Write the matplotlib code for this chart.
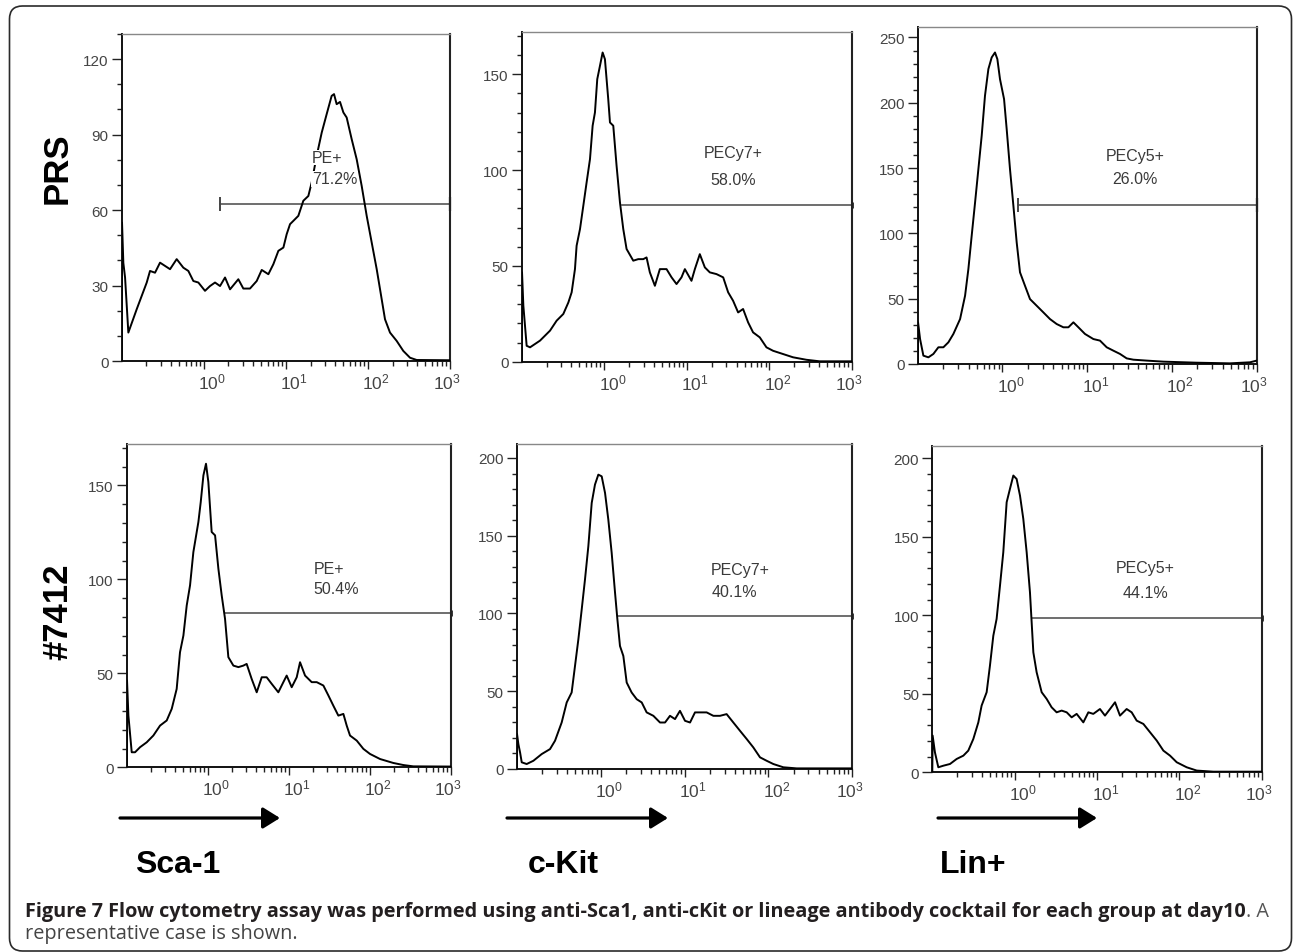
import matplotlib
matplotlib.use('Agg')
import matplotlib.pyplot as plt
import numpy as np
from matplotlib.ticker import LogLocator, MultipleLocator, NullFormatter
from matplotlib.transforms import ScaledTranslation
from matplotlib.patches import FancyBboxPatch

plt.rcParams['font.family'] = ['Liberation Sans', 'DejaVu Sans']
plt.rcParams['mathtext.fontset'] = 'custom'
plt.rcParams['mathtext.rm'] = 'Liberation Sans'
plt.rcParams['mathtext.it'] = 'Liberation Sans'

# ---- data (log10 intensity, cell count) ----
# PRS / Sca-1
prs_sca1_logx = [-1.0, -0.996, -0.98, -0.959, -0.919, -0.817, -0.695, -0.655, -0.594, -0.533, -0.472, -0.411,
                 -0.33, -0.249, -0.188, -0.127, -0.066, 0.015, 0.076, 0.137, 0.198, 0.259, 0.32, 0.421, 0.482,
                 0.563, 0.645, 0.706, 0.787, 0.848, 0.909, 0.97, 1.01, 1.051, 1.091, 1.152, 1.213, 1.274, 1.315,
                 1.376, 1.437, 1.497, 1.558, 1.587, 1.619, 1.66, 1.701, 1.741, 1.802, 1.863, 1.924, 1.985, 2.046,
                 2.107, 2.168, 2.208, 2.269, 2.35, 2.431, 2.513, 2.594, 3.0]
prs_sca1_count = [0, 55, 39, 33.2, 11.3, 20.6, 31.2, 35.8, 35.1, 39.1, 37.8, 36.5,
                  40.5, 37.1, 35.8, 31.8, 31.2, 27.9, 29.8, 31.2, 29.8, 33.2, 28.5, 32.5, 28.8,
                  28.8, 31.8, 36.2, 34.5, 38.5, 43.8, 45.1, 50.4, 54.4, 55.7, 57.7, 63.7, 65.6, 71.0,
                  81.6, 90.8, 98.1, 105.4, 106.1, 102.1, 103.0, 98.8, 96.8, 88.2, 80.2, 69.6, 57.7, 47.1,
                  36.5, 24.5, 16.6, 11.3, 8.0, 4.0, 1.3, 0.4, 0.3]
# PRS / c-Kit
prs_ckit_logx = [-1.0, -0.996, -0.98, -0.94, -0.899, -0.778, -0.657, -0.577, -0.496, -0.435, -0.395, -0.355,
                 -0.335, -0.294, -0.254, -0.214, -0.173, -0.141, -0.113, -0.085, -0.052, -0.02, 0.008, 0.048,
                 0.069, 0.109, 0.149, 0.19, 0.23, 0.27, 0.351, 0.411, 0.472, 0.512, 0.552, 0.613, 0.673, 0.754,
                 0.815, 0.875, 0.935, 0.976, 1.056, 1.097, 1.157, 1.218, 1.278, 1.359, 1.44, 1.5, 1.56, 1.621,
                 1.681, 1.742, 1.802, 1.883, 1.964, 2.044, 2.165, 2.286, 2.448, 2.609, 3.0]
prs_ckit_count = [0, 46.6, 29.2, 8.3, 7.5, 11.0, 16.2, 21.4, 24.9, 30.9, 36.2, 48.3,
                  60.5, 69.2, 81.3, 93.5, 105.7, 123.1, 130.0, 147.4, 154.4, 161.3, 157.8, 137.0,
                  124.8, 123.1, 102.2, 83.1, 69.2, 58.8, 52.7, 53.5, 53.5, 54.4, 46.6, 39.6, 48.3, 48.3,
                  44.0, 40.5, 44.0, 48.3, 42.2, 48.3, 56.1, 49.2, 46.6, 45.7, 44.0, 36.2, 31.8, 25.7,
                  27.5, 20.5, 15.3, 12.7, 7.5, 5.7, 4.0, 2.3, 1.0, 0.2, 0.2]
# PRS / Lin+
prs_lin_logx = [-1.0, -0.996, -0.972, -0.933, -0.874, -0.815, -0.756, -0.697, -0.638, -0.579, -0.5, -0.441,
                -0.402, -0.363, -0.323, -0.284, -0.245, -0.206, -0.166, -0.127, -0.088, -0.06, -0.029, 0.019,
                0.05, 0.089, 0.129, 0.168, 0.207, 0.266, 0.325, 0.404, 0.483, 0.561, 0.64, 0.719, 0.778, 0.837,
                0.896, 0.974, 1.073, 1.151, 1.23, 1.309, 1.387, 1.466, 1.545, 1.702, 1.899, 2.292, 2.685, 2.921,
                3.0]
prs_lin_count = [0, 31.9, 19.1, 6.4, 5.1, 7.7, 12.8, 12.8, 16.6, 23.0, 34.4, 52.3,
                 72.7, 98.2, 123.7, 149.2, 174.7, 205.4, 225.8, 234.7, 238.5, 233.4, 218.1, 202.8,
                 179.8, 149.2, 121.2, 93.1, 70.2, 59.9, 49.7, 44.6, 39.5, 34.4, 30.6, 28.1, 28.1, 31.9,
                 28.1, 23.0, 19.1, 17.9, 12.8, 10.2, 7.7, 4.3, 3.3, 2.6, 1.8, 1.0, 0.5, 1.3,
                 2.6]
# #7412 / Sca-1
d7412_sca1_logx = [-1.0, -0.996, -0.979, -0.938, -0.897, -0.835, -0.753, -0.671, -0.588, -0.506, -0.444, -0.383,
                   -0.342, -0.3, -0.259, -0.218, -0.177, -0.115, -0.086, -0.053, -0.021, 0.008, 0.049, 0.091,
                   0.132, 0.173, 0.214, 0.255, 0.317, 0.379, 0.44, 0.481, 0.543, 0.605, 0.667, 0.728, 0.79,
                   0.872, 0.934, 0.975, 1.037, 1.099, 1.14, 1.202, 1.284, 1.346, 1.428, 1.49, 1.551, 1.613,
                   1.675, 1.716, 1.757, 1.84, 1.922, 2.004, 2.128, 2.292, 2.416, 2.539, 3.0]
d7412_sca1_count = [0, 46.2, 27.5, 8.0, 8.0, 10.7, 13.3, 16.9, 22.2, 24.9, 31.1, 41.7,
                    61.2, 70.1, 86.1, 96.8, 114.5, 130.5, 141.1, 155.3, 161.5, 151.8, 125.2, 123.4,
                    105.6, 91.4, 79.0, 58.6, 54.1, 53.3, 54.1, 55.0, 47.0, 39.9, 47.9, 47.9, 44.4,
                    39.9, 45.3, 48.8, 42.6, 47.9, 55.9, 48.8, 45.3, 45.3, 43.5, 38.2, 32.8, 27.5,
                    28.4, 22.2, 16.9, 14.2, 9.8, 7.1, 4.4, 2.3, 1.2, 0.5, 0.4]
# #7412 / c-Kit
d7412_ckit_logx = [-1.0, -0.996, -0.98, -0.96, -0.94, -0.881, -0.801, -0.702, -0.603, -0.543, -0.464, -0.404,
                   -0.345, -0.305, -0.265, -0.225, -0.186, -0.146, -0.106, -0.067, -0.027, 0.013, 0.053, 0.092,
                   0.132, 0.172, 0.2, 0.231, 0.271, 0.311, 0.37, 0.43, 0.49, 0.549, 0.629, 0.708, 0.768, 0.827,
                   0.887, 0.946, 1.006, 1.066, 1.125, 1.185, 1.264, 1.344, 1.423, 1.502, 1.582, 1.661, 1.741,
                   1.82, 1.9, 1.979, 2.059, 2.178, 2.337, 3.0]
d7412_ckit_count = [0, 22.5, 16.0, 10.7, 4.3, 3.2, 5.3, 9.6, 12.8, 18.2, 29.9, 42.8,
                    49.2, 66.3, 83.4, 102.7, 121.9, 143.3, 171.1, 182.9, 189.3, 188.2, 177.5, 160.4,
                    139.0, 113.4, 96.3, 79.1, 72.7, 55.6, 49.2, 44.9, 42.8, 36.4, 34.2, 29.9, 29.9, 34.2,
                    32.1, 37.4, 31.0, 29.9, 36.4, 36.4, 36.4, 34.2, 34.2, 35.3, 29.9, 24.6, 19.3,
                    13.9, 7.5, 5.3, 3.2, 1.1, 0.4, 0.4]
# #7412 / Lin+
d7412_lin_logx = [-1.0, -0.996, -0.968, -0.927, -0.866, -0.785, -0.704, -0.623, -0.563, -0.502, -0.441, -0.401,
                  -0.34, -0.3, -0.259, -0.219, -0.178, -0.138, -0.097, -0.057, -0.016, 0.024, 0.065, 0.105,
                  0.146, 0.186, 0.227, 0.267, 0.328, 0.389, 0.449, 0.51, 0.571, 0.632, 0.692, 0.753, 0.834,
                  0.895, 0.955, 1.036, 1.097, 1.158, 1.219, 1.279, 1.36, 1.421, 1.482, 1.563, 1.644, 1.725,
                  1.806, 1.887, 1.968, 2.089, 2.211, 2.413, 3.0]
d7412_lin_count = [0, 23.4, 12.7, 3.2, 4.2, 5.3, 8.5, 10.6, 13.8, 21.2, 31.8, 42.5,
                   51.0, 67.9, 87.0, 97.7, 118.9, 140.1, 172.0, 180.5, 189.0, 186.8, 176.2, 161.4,
                   140.1, 114.6, 76.4, 63.7, 51.0, 46.7, 41.4, 38.2, 39.3, 38.2, 35.0, 37.2, 31.8,
                   38.2, 37.2, 40.3, 36.1, 40.3, 44.6, 36.1, 40.3, 38.2, 32.9, 30.8, 25.5, 20.2,
                   13.8, 10.6, 6.4, 3.2, 1.1, 0.4, 0.4]

# gates: marker name, percent, start of gate, height of gate
gate_names = ['PE+', 'PECy7+', 'PECy5+', 'PE+', 'PECy7+', 'PECy5+']
gate_pct = ['71.2%', '58.0%', '26.0%', '50.4%', '40.1%', '44.1%']
gate_start = [1.58, 1.62, 1.54, 1.64, 1.63, 1.61]
gate_end = 1000
gate_y = [62.3, 81.7, 121.7, 82.0, 98.4, 98.0]

y_max = [130, 172, 258, 172, 209, 208]
y_step = [30, 50, 50, 50, 50, 50]

row_labels = ['PRS', '#7412']
col_labels = ['Sca-1', 'c-Kit', 'Lin+']
caption_bold = ('Figure 7 Flow cytometry assay was performed using anti-Sca1, anti-cKit or lineage '
                'antibody cocktail for each group at day10')
caption_rest = '. A'
caption_line2 = 'representative case is shown.'

curves = [(prs_sca1_logx, prs_sca1_count), (prs_ckit_logx, prs_ckit_count), (prs_lin_logx, prs_lin_count),
          (d7412_sca1_logx, d7412_sca1_count), (d7412_ckit_logx, d7412_ckit_count),
          (d7412_lin_logx, d7412_lin_count)]

# ---- layout (figure pixels: left, top, right, bottom) ----
W, H = 1293, 953
boxes = [(121.7, 35, 450, 362), (521.7, 33, 852, 362.7), (917.7, 28, 1256.7, 365),
         (126.7, 445, 450.7, 768.3), (516.7, 445, 852.3, 770), (932.3, 446.7, 1261.7, 773.3)]
# label positions: (log x line1, y line1, log x line2, y line2, alignment)
label_pos = [(1.315, 80.9, 1.315, 72.5, 'left'), (1.56, 109, 1.56, 94.9, 'center'),
             (1.564, 160, 1.564, 142, 'center'), (1.305, 105.6, 1.305, 95, 'left'),
             (1.661, 128, 1.59, 114.4, 'center'), (1.583, 130.6, 1.583, 114.6, 'center')]
left_cap = [True, False, True, False, False, False]

fig = plt.figure(figsize=(W / 100, H / 100), dpi=100)
fig.patch.set_facecolor('white')

# background axes in pixel units for border, arrows and text
bg = fig.add_axes([0, 0, 1, 1], zorder=-1)
bg.set_xlim(0, W)
bg.set_ylim(H, 0)
bg.axis('off')
bg.add_patch(FancyBboxPatch((9.5, 7), 1282, 945, boxstyle='round,pad=0,rounding_size=13',
                            fc='none', ec='#2a2a2a', lw=1.2))

for i, (l, t, r, b) in enumerate(boxes):
    ax = fig.add_axes([l / W, 1 - b / H, (r - l) / W, (b - t) / H])
    logx, cnt = curves[i]
    ax.plot(10 ** np.array(logx), cnt, color='black', lw=1.4, zorder=3)
    ax.set_xscale('log')
    ax.set_xlim(0.1, 1000)
    ax.set_ylim(0, y_max[i])

    # gate line
    ax.plot([gate_start[i], gate_end], [gate_y[i], gate_y[i]], color='#555555', lw=1.2, zorder=2)
    if left_cap[i]:
        ax.plot([gate_start[i]], [gate_y[i]], marker='|', ms=10, mew=1.4, color='#444444')
        ax.plot([gate_end], [gate_y[i]], marker='|', ms=10, mew=1.6, color='#222222', clip_on=False)
    else:
        ax.plot([gate_end], [gate_y[i]], marker='|', ms=5, mew=2, color='#222222', clip_on=False)

    x1, y1, x2, y2, ha = label_pos[i]
    ax.text(10 ** x1, y1, gate_names[i], ha=ha, va='center', fontsize=11.5, color='#3a3a3a', zorder=4,
            bbox=dict(fc='white', ec='none', pad=0.3))
    ax.text(10 ** x2, y2, gate_pct[i], ha=ha, va='center', fontsize=11.5, color='#3a3a3a', zorder=4,
            bbox=dict(fc='white', ec='none', pad=0.3))

    # spines
    for side in ['left', 'bottom']:
        ax.spines[side].set_color('#111111')
        ax.spines[side].set_linewidth(1.4)
    ax.spines['right'].set_color('#222222')
    ax.spines['right'].set_linewidth(1.5)
    ax.spines['top'].set_color('#888888')
    ax.spines['top'].set_linewidth(1.0)

    # ticks
    ax.yaxis.set_major_locator(MultipleLocator(y_step[i]))
    ax.yaxis.set_minor_locator(MultipleLocator(10))
    ax.set_xticks([1, 10, 100, 1000])
    ax.set_xticklabels(['$10^{0}$', '$10^{1}$', '$10^{2}$', '$10^{3}$'])
    ax.xaxis.set_minor_locator(LogLocator(base=10, subs=np.arange(2, 10)))
    ax.xaxis.set_minor_formatter(NullFormatter())
    ax.tick_params(axis='y', which='major', length=7, width=1, pad=2.5, colors='#222222',
                   labelcolor='#444444', labelsize=11)
    ax.tick_params(axis='y', which='minor', length=3.5, width=1, colors='#222222')
    ax.tick_params(axis='x', which='major', length=6, width=1, pad=1.5, colors='#222222',
                   labelcolor='#444444', labelsize=12.5)
    ax.tick_params(axis='x', which='minor', length=3.5, width=1, colors='#222222')
    for k, lab in enumerate(ax.get_xticklabels()):
        dx = 6 if k < 3 else -2
        lab.set_transform(lab.get_transform() + ScaledTranslation(dx / 72, 0, fig.dpi_scale_trans))

# row labels
bg.text(57.5, 168, row_labels[0], rotation=90, ha='center', va='center', fontsize=25, fontweight='bold')
bg.text(57.5, 612, row_labels[1], rotation=90, ha='center', va='center', fontsize=25, fontweight='bold')

# arrows and channel names
arrow_x = [(120, 280), (507, 668), (938, 1097)]
text_x = [135, 528, 940]
for (xa, xb), tx, name in zip(arrow_x, text_x, col_labels):
    bg.annotate('', xy=(xb, 819), xytext=(xa, 819),
                arrowprops=dict(arrowstyle='-|>,head_length=0.45,head_width=0.28', lw=2.3, color='black',
                                mutation_scale=23, shrinkA=0, shrinkB=0))
    bg.text(tx, 873, name, ha='left', va='baseline', fontsize=23, fontweight='bold')

# caption, bold part fitted to its width in the picture
cap = bg.text(25, 917, caption_bold, ha='left', va='baseline', fontsize=14, fontweight='bold',
              family=['Open Sans', 'DejaVu Sans'], color='#231f20')
renderer = fig.canvas.get_renderer()
wpx = cap.get_window_extent(renderer).width
fs = 14 * 1232 / wpx
cap.set_fontsize(fs)
bb = cap.get_window_extent(renderer)
bg.text(bb.x1, 917, caption_rest, ha='left', va='baseline', fontsize=fs,
        family=['Open Sans', 'DejaVu Sans'], color='#555555')
bg.text(25, 939, caption_line2, ha='left', va='baseline', fontsize=fs,
        family=['Open Sans', 'DejaVu Sans'], color='#444444')

fig.savefig('out.png', dpi=100)
